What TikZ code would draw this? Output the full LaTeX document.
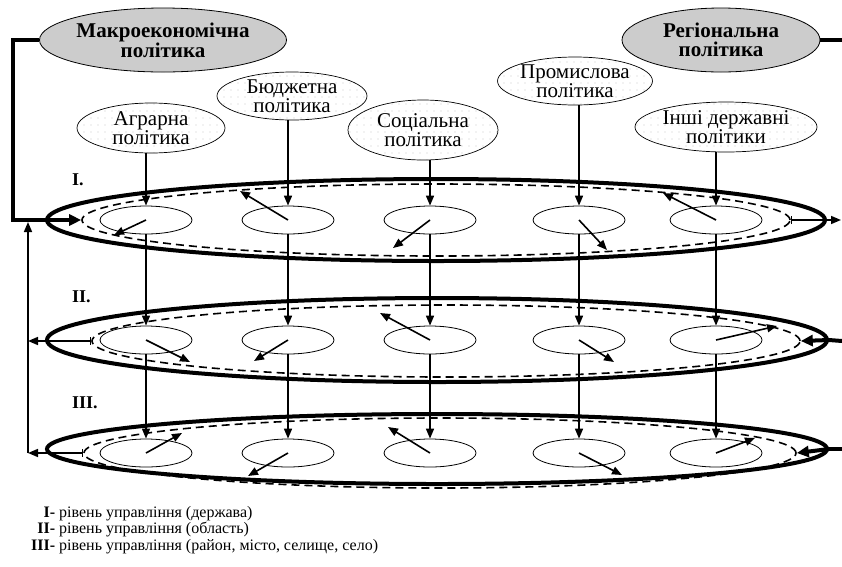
\documentclass[tikz,border=0pt]{standalone}
\usepackage{fontspec}
\setmainfont{Liberation Serif}
\newfontfamily\tmfont{Liberation Serif}
\usepackage{tikz}
\usetikzlibrary{shapes.geometric, arrows.meta, patterns.meta}

\begin{document}
\begin{tikzpicture}[
		x=1pt, y=-1pt,
		every node/.style={inner sep=0pt},
		main/.style={ellipse,draw,line width=0.8pt,fill=gray!40,minimum width=#1,minimum height=64,align=center,font=\tmfont\fontsize{21}{19}\selectfont\bfseries},
		pol/.style={ellipse,draw,line width=0.7pt,pattern={Dots[distance=7pt,radius=0.55pt]},pattern color=gray!45,align=center,font=\tmfont\fontsize{21}{17}\selectfont},
		level/.style={ellipse,draw,line width=4pt},
		ring/.style={ellipse,draw,line width=1.6pt,dash pattern=on 8pt off 5pt},
		unit/.style={ellipse,draw,line width=0.8pt,minimum width=92,minimum height=28},
		arr/.style={line width=1.6pt,-{Triangle[length=10pt,width=8pt]}},
		outarr/.style={line width=1.6pt,{Bar[width=8pt,line width=1pt]}-{Triangle[length=10pt,width=8pt]}},
		thk/.style={line width=4pt},
		thkarr/.style={line width=4pt,-{Triangle[length=12pt,width=11pt]}},
		lab/.style={anchor=west,font=\tmfont\fontsize{18}{18}\selectfont\bfseries},
		leg/.style={anchor=base west,font=\tmfont\fontsize{16}{16}\selectfont}]
		\useasboundingbox (0,0) rectangle (842,566);
		\node[main=247] (m) at (163,40) {Макроекономічна\\політика};
		\node[main=198] (r) at (721,40) {Регіональна\\політика};
		\node[pol,minimum width=148,minimum height=50] (p1) at (151,128) {Аграрна\\політика};
		\node[pol,minimum width=150,minimum height=48] (p2) at (292,96) {Бюджетна\\політика};
		\node[pol,minimum width=150,minimum height=60] (p3) at (423,130) {Соціальна\\політика};
		\node[pol,minimum width=150,minimum height=48] (p4) at (575,81) {Промислова\\політика};
		\node[pol,minimum width=182,minimum height=50] (p5) at (726,127) {Інші державні\\політики};
		
		\node[level,minimum width=778,minimum height=82] (o1) at (436,220) {};
		\node[ring,minimum width=708,minimum height=72] (d1) at (436,220) {};
		\node[level,minimum width=780,minimum height=84] (o2) at (437,340) {};
		\node[ring,minimum width=708,minimum height=72] (d2) at (446,341) {};
		\node[level,minimum width=780,minimum height=70] (o3) at (437,449) {};
		\node[ring,minimum width=712,minimum height=70] (d3) at (440,453) {};
		
		\node[unit] (e11) at (146,220) {};
		\node[unit] (e12) at (288,220) {};
		\node[unit] (e13) at (430,220) {};
		\node[unit] (e14) at (579,220) {};
		\node[unit] (e15) at (716,220) {};
		\node[unit] (e21) at (146,340) {};
		\node[unit] (e22) at (288,340) {};
		\node[unit] (e23) at (430,340) {};
		\node[unit] (e24) at (579,340) {};
		\node[unit] (e25) at (716,340) {};
		\node[unit] (e31) at (146,453) {};
		\node[unit] (e32) at (288,453) {};
		\node[unit] (e33) at (430,453) {};
		\node[unit] (e34) at (579,453) {};
		\node[unit] (e35) at (716,453) {};
		
		\node[lab] (n1) at (72,180) {I.};
		\node[lab] (n2) at (72,297) {II.};
		\node[lab] (n3) at (72,403) {III.};
		
		\coordinate (t11) at (114,235);
		\coordinate (t12) at (240,191);
		\coordinate (t13) at (393,248);
		\coordinate (t14) at (607,250);
		\coordinate (t15) at (663,193);
		\coordinate (t21) at (190,362);
		\coordinate (t22) at (254,361);
		\coordinate (t23) at (380,313);
		\coordinate (t24) at (614,362);
		\coordinate (t25) at (777,326);
		\coordinate (t31) at (182,433);
		\coordinate (t32) at (248,476);
		\coordinate (t33) at (388,427);
		\coordinate (t34) at (622,475);
		\coordinate (t35) at (755,438);
		
		\draw[arr] (p1.south -| e11) -- (e11.north);
		\draw[arr] (p2.south -| e12) -- (e12.north);
		\draw[arr] (p3.south -| e13) -- (e13.north);
		\draw[arr] (p4.south -| e14) -- (e14.north);
		\draw[arr] (p5.south -| e15) -- (e15.north);
		
		\draw[arr] (e11.south) -- (e21.north);
		\draw[arr] (e12.south) -- (e22.north);
		\draw[arr] (e13.south) -- (e23.north);
		\draw[arr] (e14.south) -- (e24.north);
		\draw[arr] (e15.south) -- (e25.north);
		\draw[arr] (e21.south) -- (e31.north);
		\draw[arr] (e22.south) -- (e32.north);
		\draw[arr] (e23.south) -- (e33.north);
		\draw[arr] (e24.south) -- (e34.north);
		\draw[arr] (e25.south) -- (e35.north);
		
		\draw[arr] (e11.center) -- (t11);
		\draw[arr] (e12.center) -- (t12);
		\draw[arr] (e13.center) -- (t13);
		\draw[arr] (e14.center) -- (t14);
		\draw[arr] (e15.center) -- (t15);
		\draw[arr] (e21.center) -- (t21);
		\draw[arr] (e22.center) -- (t22);
		\draw[arr] (e23.center) -- (t23);
		\draw[arr] (e24.center) -- (t24);
		\draw[arr] (e25.center) -- (t25);
		\draw[arr] (e31.center) -- (t31);
		\draw[arr] (e32.center) -- (t32);
		\draw[arr] (e33.center) -- (t33);
		\draw[arr] (e34.center) -- (t34);
		\draw[arr] (e35.center) -- (t35);
		
		% links on the sides
		\coordinate (a) at (13,220);
		\coordinate (b) at (28,453);
		\coordinate (c) at (28,222);
		\coordinate (f) at (842,40);
		\coordinate (g1) at (841,220);
		\coordinate (g2) at (842,341);
		\coordinate (g3) at (842,449);
		\draw[thk] (m.west) -| (a) -- (o1.west);
		\draw[thkarr] (o1.west) -- (d1.west);
		\draw[arr] (b) -- (c);
		\draw[outarr] (d2.west) -- (d2.west -| b);
		\draw[outarr] (d3.west) -- (b);
		\draw[outarr] (d1.east) -- (g1);
		\draw[thk] (r.east) -- (f);
		\draw[thk] (g2) -- (o2.east);
		\draw[thkarr] (o2.east) -- (d2.east);
		\draw[thk] (g3) -- (o3.east);
		\draw[thkarr] (o3.east) -- (d3.east);
		
		\node[leg] (l1) at (55,517) {\llap{\bfseries I-} рівень управління (держава)};
		\node[leg] (l2) at (55,533) {\llap{\bfseries II-} рівень управління (область)};
		\node[leg] (l3) at (55,550) {\llap{\bfseries III-} рівень управління (район, місто, селище, село)};
	\end{tikzpicture}
\end{document}
